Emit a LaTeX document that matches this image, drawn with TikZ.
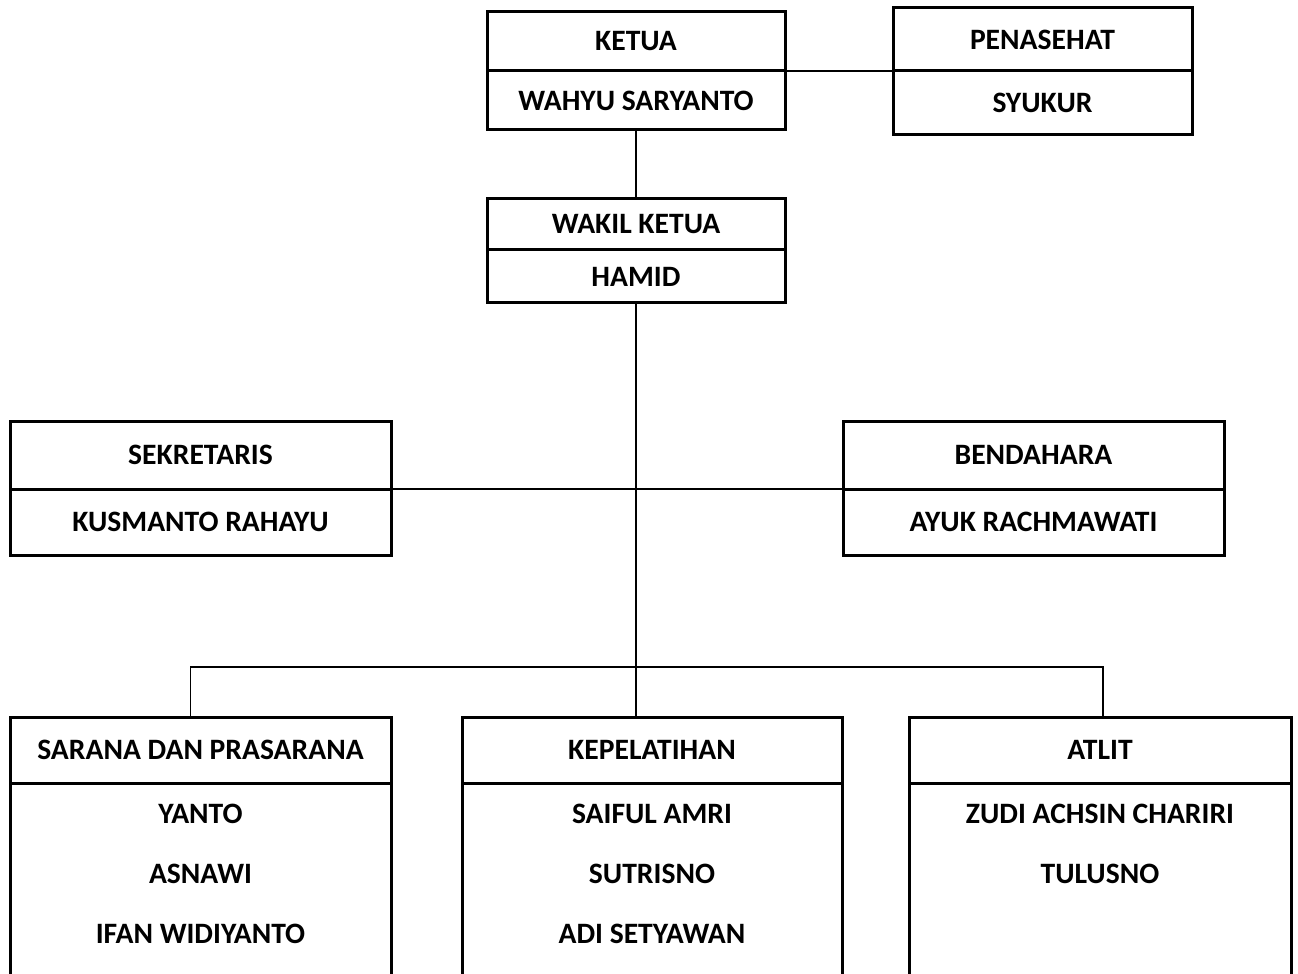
\documentclass[tikz,border=0pt]{standalone}
\usepackage{fontspec}
\setmainfont{Carlito}
\usepackage{tikz}
\usetikzlibrary{positioning}
\tikzstyle{role} = [rectangle, draw=black, line width=1.5pt, inner sep=0pt, outer sep=0pt, text centered, font=\fontsize{14.8}{18}\selectfont\bfseries]
\tikzstyle{members} = [align=center, inner sep=0pt, outer sep=0pt, font=\fontsize{14.8}{30}\selectfont\bfseries]
\tikzstyle{link} = [line width=0.6pt]

\begin{document}
\begin{tikzpicture}[x=1pt, y=1pt]
    \useasboundingbox (0,0) rectangle (649,-487);

    \node (ketua) [role, minimum width=149pt, minimum height=29.5pt] at (318,-20.75) {KETUA};
    \node (ketuaName) [role, minimum width=149pt, minimum height=29.5pt, below=0pt of ketua] {WAHYU SARYANTO};
    \node (penasehat) [role, minimum width=149.5pt, minimum height=31.5pt] at (521.25,-19.75) {PENASEHAT};
    \node (penasehatName) [role, minimum width=149.5pt, minimum height=32pt, below=0pt of penasehat] {SYUKUR};
    \node (wakil) [role, minimum width=149pt, minimum height=25.5pt] at (318,-112.25) {WAKIL KETUA};
    \node (wakilName) [role, minimum width=149pt, minimum height=26.5pt, below=0pt of wakil] {HAMID};

    \node (sekretaris) [role, minimum width=190.5pt, minimum height=34pt] at (100.25,-227.5) {SEKRETARIS};
    \node (sekretarisName) [role, minimum width=190.5pt, minimum height=33pt, below=0pt of sekretaris] {KUSMANTO RAHAYU};
    \node (bendahara) [role, minimum width=190.5pt, minimum height=34pt] at (516.75,-227.5) {BENDAHARA};
    \node (bendaharaName) [role, minimum width=190.5pt, minimum height=33pt, below=0pt of bendahara] {AYUK RACHMAWATI};

    \node (sarana) [role, minimum width=190.5pt, minimum height=33pt] at (100.25,-375) {SARANA DAN PRASARANA};
    \node (saranaBox) [role, minimum width=190.5pt, minimum height=120pt, below=0pt of sarana] {};
    \node (saranaList) [members, below=10.75pt of saranaBox.north] {YANTO\\ASNAWI\\IFAN WIDIYANTO};
    \node (pelatih) [role, minimum width=190pt, minimum height=33pt] at (326,-375) {KEPELATIHAN};
    \node (pelatihBox) [role, minimum width=190pt, minimum height=120pt, below=0pt of pelatih] {};
    \node (pelatihList) [members, below=10.75pt of pelatihBox.north] {SAIFUL AMRI\\SUTRISNO\\ADI SETYAWAN};
    \node (atlit) [role, minimum width=191pt, minimum height=33pt] at (550,-375) {ATLIT};
    \node (atlitBox) [role, minimum width=191pt, minimum height=120pt, below=0pt of atlit] {};
    \node (atlitList) [members, below=10.75pt of atlitBox.north] {ZUDI ACHSIN CHARIRI\\TULUSNO};

    \coordinate (bus) at (318,-333.5);

    \draw [link] (ketuaName.north east) -- (penasehatName.north west);
    \draw [link] (ketuaName.south) -- (wakil.north);
    \draw [link] (wakilName.south) -- (wakilName.south |- pelatih.north);
    \draw [link] (sekretarisName.north east) -- (bendaharaName.north west);
    \draw [link] ([xshift=-5pt]sarana.north) |- (bus) -| ([xshift=1.5pt]atlit.north);
\end{tikzpicture}
\end{document}
